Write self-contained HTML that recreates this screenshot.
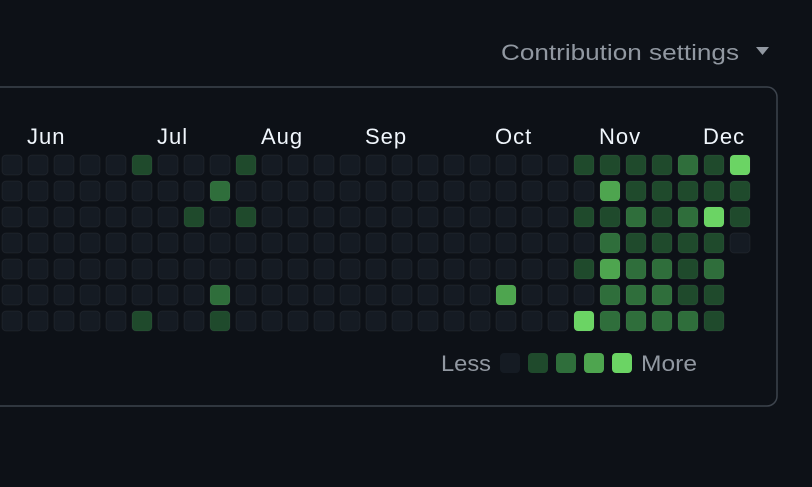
<!DOCTYPE html>
<html><head><meta charset="utf-8"><style>
body{margin:0;width:812px;height:482px;background:#0d1117;overflow:hidden;font-family:"Liberation Sans",sans-serif;}
</style></head><body>
<svg width="812" height="482" id="svg">
<rect x="-20" y="87" width="797" height="319" rx="10" fill="none" stroke="#3d444d" stroke-width="1.5"/>
<g>
<text x="501" y="60" font-size="22" fill="#9198a1" textLength="238" lengthAdjust="spacingAndGlyphs">Contribution settings</text>
<path d="M756 47 L769 47 L762.5 55 Z" fill="#9198a1"/>
</g>
<g id="months"></g>
<g id="cells"></g>
<g>
<text x="441" y="371" font-size="22" fill="#9198a1" textLength="50" lengthAdjust="spacingAndGlyphs">Less</text>
<g id="legend"></g>
<text x="641" y="371" font-size="22" fill="#9198a1" textLength="56" lengthAdjust="spacingAndGlyphs">More</text>
</g>
</svg>
<script>
const months=["Jun","Jul","Aug","Sep","Oct","Nov","Dec"];
const monthCols=[1,6,10,14,19,23,27];
const levels=[
[0,0,0,0,0,0,0],[0,0,0,0,0,0,0],[0,0,0,0,0,0,0],[0,0,0,0,0,0,0],[0,0,0,0,0,0,0],
[1,0,0,0,0,0,1],[0,0,0,0,0,0,0],[0,0,1,0,0,0,0],[0,2,0,0,0,2,1],[1,0,1,0,0,0,0],
[0,0,0,0,0,0,0],[0,0,0,0,0,0,0],[0,0,0,0,0,0,0],[0,0,0,0,0,0,0],[0,0,0,0,0,0,0],
[0,0,0,0,0,0,0],[0,0,0,0,0,0,0],[0,0,0,0,0,0,0],[0,0,0,0,0,0,0],[0,0,0,0,0,3,0],
[0,0,0,0,0,0,0],[0,0,0,0,0,0,0],[1,0,1,0,1,0,4],[1,3,1,2,3,2,2],[1,1,2,1,2,2,2],
[1,1,1,1,2,2,2],[2,1,2,1,1,1,2],[1,1,4,1,2,1,1],[4,1,1,0]
];
const colors=["#151b23","#1f4a2c","#2f6e3b","#4ea54f","#6bd464"];
const NS="http://www.w3.org/2000/svg";
const colX=c=>2+26*c, rowY=r=>155+26*r;
const mg=document.getElementById('months');
months.forEach((m,i)=>{const t=document.createElementNS(NS,'text');
t.setAttribute('x',colX(monthCols[i])-1);t.setAttribute('y',144);t.setAttribute('font-size','22');t.setAttribute('fill','#f0f6fc');
t.setAttribute('letter-spacing','1');


t.textContent=m;mg.appendChild(t);});
const cg=document.getElementById('cells');
levels.forEach((col,c)=>col.forEach((l,r)=>{const e=document.createElementNS(NS,'rect');
e.setAttribute('x',colX(c));e.setAttribute('y',rowY(r));e.setAttribute('width',20);e.setAttribute('height',20);e.setAttribute('rx',4);
e.setAttribute('fill',colors[l]);e.setAttribute('stroke','rgba(255,255,255,0.05)');


cg.appendChild(e);}));
const lg=document.getElementById('legend');
colors.forEach((col,i)=>{const e=document.createElementNS(NS,'rect');
e.setAttribute('x',500+28*i);e.setAttribute('y',353);e.setAttribute('width',20);e.setAttribute('height',20);e.setAttribute('rx',4);e.setAttribute('fill',col);


lg.appendChild(e);});
</script>
</body></html>
